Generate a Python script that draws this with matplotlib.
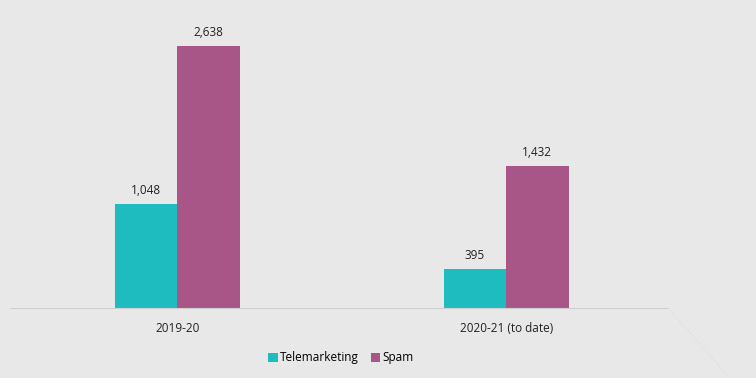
import numpy as np
import matplotlib.pyplot as plt
from matplotlib.lines import Line2D

categories = ['2019-20', '2020-21 (to date)']
telemarketing = [1048, 395]
spam = [2638, 1432]

bg = '#e8e8e8'
teal = '#1fbcbf'
purple = '#a85587'

plt.rcParams['font.family'] = ['Open Sans', 'DejaVu Sans']

fig = plt.figure(figsize=(7.56, 3.78), dpi=100, facecolor=bg)
ax = fig.add_axes([10 / 756, 70 / 378, 658 / 756, 298 / 378])
ax.set_facecolor(bg)

x = np.arange(len(categories))
w = 0.19
b1 = ax.bar(x - w / 2, telemarketing, w, color=teal, label='Telemarketing')
b2 = ax.bar(x + w / 2, spam, w, color=purple, label='Spam')

for bars in (b1, b2):
    for r in bars:
        ax.annotate(f'{int(r.get_height()):,}', (r.get_x() + r.get_width() / 2, r.get_height()),
                    xytext=(0, 5), textcoords='offset points', ha='center', va='bottom',
                    fontsize=8.5, color='#222222')

ax.set_xlim(-0.508, 1.492)
ax.set_ylim(0, 3000)
ax.set_xticks(x)
ax.set_xticklabels(categories, fontsize=8.5, color='#222222')
ax.tick_params(axis='x', length=0, pad=10)
ax.set_yticks([])
for s in ['top', 'right', 'left']:
    ax.spines[s].set_visible(False)
ax.spines['bottom'].set_color('#cfcfcf')
ax.spines['bottom'].set_linestyle((0, (1, 1)))

fig.add_artist(Line2D([668 / 756, 730 / 756], [70 / 378, 0], transform=fig.transFigure,
                      color='#dcdcdc', lw=0.8, ls=(0, (1, 2))))

leg = fig.legend(loc='center', bbox_to_anchor=(341 / 756, 20 / 378), ncol=2, frameon=False,
                 fontsize=8.5, handlelength=0.8, handleheight=0.8, handletextpad=0.2,
                 columnspacing=1.0)

fig.savefig('out.png', dpi=100, facecolor=bg)
